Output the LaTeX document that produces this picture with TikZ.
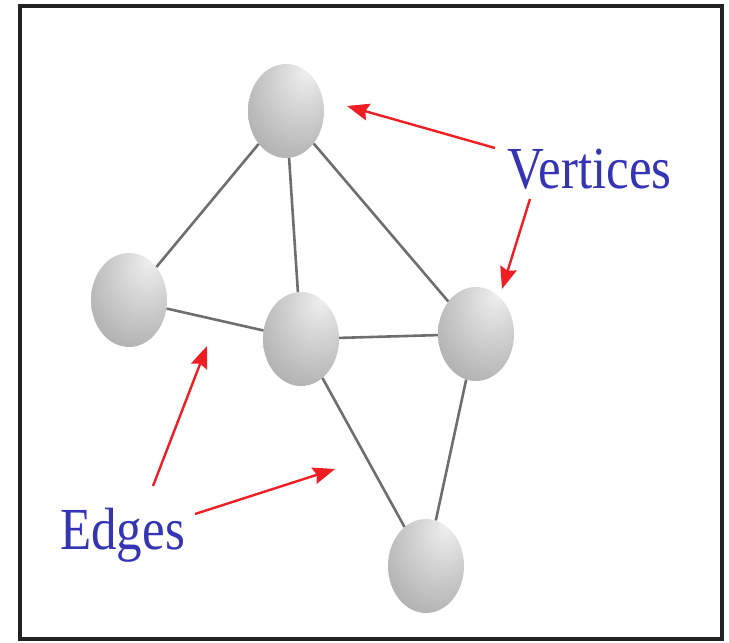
\documentclass[tikz,border=0pt]{standalone}
\usepackage{fontspec}
\setmainfont{Liberation Serif}
\usetikzlibrary{shapes.geometric, arrows.meta}
\definecolor{FrameColor}{HTML}{222222}
\definecolor{EdgeGray}{HTML}{6E6E6E}
\definecolor{PointerRed}{HTML}{F01E23}
\definecolor{LabelBlue}{HTML}{3434B4}
\pgfdeclareradialshading{vertexball}{\pgfpoint{14bp}{22bp}}{color(0bp)=(black!6); color(22bp)=(black!20); color(48bp)=(black!36); color(80bp)=(black!58)}

\begin{document}
\begin{tikzpicture}[
        x=1pt, y=-1pt,
        vertex/.style={ellipse, minimum width=76pt, minimum height=94pt, inner sep=0pt, shading=vertexball},
        edge/.style={line width=2.6pt, EdgeGray},
        tag/.style={inner sep=0pt, anchor=base west, text=LabelBlue, font=\fontsize{51}{51}\selectfont},
        pointer/.style={-{Stealth[length=22pt, width=17pt, inset=3pt]}, line width=2.4pt, PointerRed}
      ]
        \useasboundingbox (0,0) rectangle (729,643);
        \draw[line width=4pt, FrameColor] (20,6) rectangle (722,639);

        % vertices
        \node[vertex] (top) at (286,111) {};
        \node[vertex] (lft) at (129,300) {};
        \node[vertex] (mid) at (301,339) {};
        \node[vertex] (rgt) at (476,334) {};
        \node[vertex] (bot) at (426,566) {};

        % edges
        \draw[edge] (top) -- (lft);
        \draw[edge] (top) -- (mid);
        \draw[edge] (top) -- (rgt);
        \draw[edge] (lft) -- (mid);
        \draw[edge] (mid) -- (rgt);
        \draw[edge] (mid) -- (bot);
        \draw[edge] (rgt) -- (bot);

        % labels
        \node[tag] (vtx) at (507,188) {\scalebox{1}[1.17]{Vertices}};
        \node[tag] (edg) at (60,549) {\scalebox{1}[1.17]{Edges}};

        \coordinate (vtxA) at (495,148);
        \coordinate (vtxB) at (530,199);
        \coordinate (edgA) at (153,486);
        \coordinate (edgB) at (195,514);
        \coordinate (tipTop) at (347,106);
        \coordinate (tipRgt) at (502,289);
        \coordinate (tipLm) at (207,346);
        \coordinate (tipMb) at (335,469);

        \draw[pointer] (vtxA) -- (tipTop);
        \draw[pointer] (vtxB) -- (tipRgt);
        \draw[pointer] (edgA) -- (tipLm);
        \draw[pointer] (edgB) -- (tipMb);
      \end{tikzpicture}
\end{document}
